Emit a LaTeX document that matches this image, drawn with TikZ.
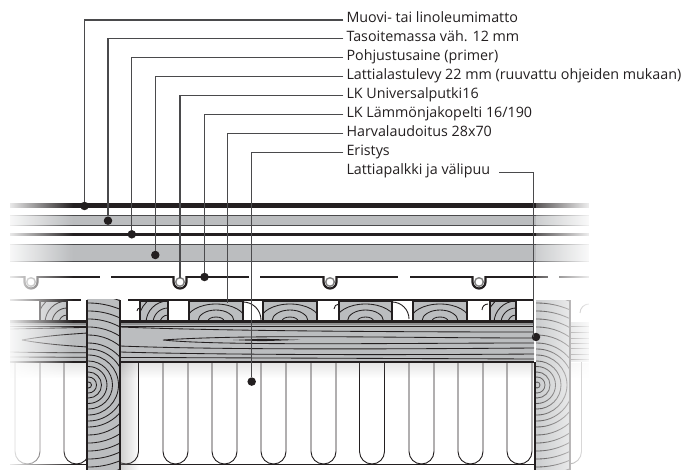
\documentclass[tikz,border=0pt]{standalone}
\usepackage{fontspec}
\setmainfont{Open Sans}
\usepackage{tikz}
\usetikzlibrary{fadings, shapes.geometric}
\definecolor{tumma}{HTML}{231F20}
\definecolor{harmaa}{HTML}{BBBDBF}
\definecolor{viiva}{HTML}{4A4A4C}
\tikzfading[name=haivevasen, left color=transparent!8, right color=transparent!100]
\tikzfading[name=haiveoikea, left color=transparent!75, right color=transparent!6]
\tikzfading[name=varjooikea, left color=transparent!62, right color=transparent!100]
\tikzfading[name=varjoalas, top color=transparent!80, bottom color=transparent!100]
\tikzset{
  lbl/.style={anchor=west, inner sep=3pt, text height=9pt, text depth=3pt, font=\fontsize{14.3}{16}\selectfont, text=tumma},
  leader/.style={draw=viiva, line width=1.1pt},
  dot/.style={circle, fill=tumma, minimum size=8.5pt, inner sep=0pt},
  grain/.style={draw=tumma, line width=0.85pt},
  kerros/.style={fill=harmaa, draw=none},
  reuna/.style={draw=tumma, line width=2pt}
}
\begin{document}
\begin{tikzpicture}[x=1pt,y=-1pt]
        \useasboundingbox (0,0) rectangle (682,470);
        \fill[white] (0,0) rectangle (682,470);

        % Floor layers
        \fill[tumma] (10,203.5) rectangle (589,208.5);
        \fill[kerros] (10,216) rectangle (589,225.5);
        \draw[viiva, line width=1pt] (10,216) -- (589,216) (10,225.5) -- (589,225.5);
        \fill[tumma] (10,232.8) rectangle (589,235.8);
        \fill[kerros] (10,245) rectangle (589,261.7);
        \draw[viiva, line width=1pt] (10,245) -- (589,245) (10,261.7) -- (589,261.7);

        % Heat plate and pipes
        \foreach \xa/\xb in {10/100, 111/249, 260/398, 410/548, 559/589}
          \draw[tumma, line width=1.8pt] (\xa,277) -- (\xb,277);
        \foreach \px in {31,180,330,479} {
          \fill[white] (\px-6,276.2) rectangle (\px+6,282);
          \draw[tumma, line width=2.2pt] (\px-6.5,276) -- (\px-6.5,282) arc[start angle=180, end angle=360, radius=6.5pt] -- (\px+6.5,276);
          \draw[gray, line width=1.4pt] (\px,282) circle (4.3pt);
        }

        % Insulation
        \foreach \ux in {15,64,113.5,163,212,261,311,359.5,409,458,507,556.5}
          \draw[tumma, line width=0.9pt] (\ux,362) -- (\ux,451.5) arc[start angle=180, end angle=360, radius=12.5pt] -- (\ux+25,362);
        \draw[tumma, line width=1pt] (10,464.5) -- (535,464.5);
        \fill[gray, path fading=varjoalas] (10,363) rectangle (589,378);
        \fill[gray, path fading=varjooikea] (120,363) rectangle (139,470);

        % Joist
        \fill[kerros] (10,322) rectangle (534,362);
        \fill[gray!80!black, opacity=.5] (10,321) rectangle (534,325);
        \foreach \gy in {322,326} \draw[grain] (10,\gy) -- (534,\gy);
        \draw[grain] (10,329) .. controls (60,328) and (100,327) .. (120,327) .. controls (220,331) and (400,332) .. (534,332);
        \draw[grain] (534,338) .. controls (400,338) and (250,334) .. (163,340) .. controls (220,346) and (400,343) .. (534,343);
        \draw[grain] (22,340) .. controls (50,335) and (75,334) .. (87,333);
        \draw[grain] (22,340) .. controls (50,345) and (75,346) .. (87,347);
        \draw[grain] (120,346) .. controls (220,350) and (400,349) .. (534,348);
        \draw[grain] (10,352) .. controls (60,353) and (100,353) .. (120,352) .. controls (220,355) and (400,355) .. (534,354);
        \draw[grain] (10,357) -- (534,359);
        \fill[tumma] (233,340) -- (262,338.8) -- (300,339.8) -- (262,341.2) -- cycle;
        \draw[reuna] (10,362) -- (534,362);

        % Battens
        \fill[white] (10,301) rectangle (534,321);
        \foreach \wa/\wb in {189/243,263/317,339/392,413/467} {
          \begin{scope}
            \clip (\wa,301) rectangle (\wb,320);
            \fill[kerros] (\wa,301) rectangle (\wb,320);
            \foreach \rx/\ry in {8/4,18/11,30/17}
              \draw[grain] ({(\wa+\wb)/2},321) ellipse [x radius=\rx pt, y radius=\ry pt];
          \end{scope}
          \draw[reuna] (\wa,301) rectangle (\wb,320.5);
        }
        \foreach \wa/\wb in {40/67,140/168,490/516} {
          \begin{scope}
            \clip (\wa,301) rectangle (\wb,320);
            \fill[kerros] (\wa,301) rectangle (\wb,320);
            \foreach \rx in {8,15,22,30}
              \draw[grain] (\wb,323) circle (\rx pt);
          \end{scope}
          \draw[reuna] (\wa,301) rectangle (\wb,320.5);
        }
        \draw[reuna] (10,320.5) -- (534,320.5);
        \draw[tumma, line width=2.4pt] (10,300) -- (81,300) (128,300) -- (534,300);
        \draw[tumma, line width=.9pt] (243,302) arc[start angle=90, end angle=0, radius=18pt];
        \draw[tumma, line width=.9pt] (392,302) arc[start angle=90, end angle=0, radius=17pt];
        \draw[tumma, line width=.9pt] (339,304) arc[start angle=90, end angle=180, radius=5pt];
        \draw[tumma, line width=.9pt] (140,308) arc[start angle=90, end angle=180, radius=3pt];
        \draw[tumma, line width=.9pt] (488,304) arc[start angle=90, end angle=180, radius=6pt];
        \draw[tumma, line width=.9pt] (589,304) arc[start angle=90, end angle=180, radius=9pt];

        % Right post
        \begin{scope}
          \clip (536,300) rectangle (570,470);
          \fill[kerros] (536,300) rectangle (570,470);
          \foreach \rr in {3,8,13,18.5,24,30,36,42,50,58,66,74,82,90}
            \draw[grain] (537,385) circle (\rr pt);
        \end{scope}
        \fill[white] (570,301) rectangle (571,470);
        \draw[reuna] (570,300) -- (570,470);
        \begin{scope}
          \clip (571,322) rectangle (589,362);
          \fill[kerros] (571,322) rectangle (589,362);
          \foreach \gy in {326,332,338,343,348,354,359} \draw[grain] (571,\gy) -- (589,\gy);
        \end{scope}

        % Fade out at both ends
        \fill[white, path fading=haivevasen] (9,195) rectangle (73,470);
        \fill[white, path fading=haiveoikea] (536,195) rectangle (590,470);
        \fill[white] (0,195) rectangle (10,470);
        \fill[white] (589,195) rectangle (600,470);
        \fill[white] (81,299) rectangle (128,302);
        \draw[reuna] (534.5,362) -- (534.5,470);

        % Left post
        \begin{scope}
          \clip (87,299) rectangle (120,470);
          \fill[kerros] (87,299) rectangle (120,470);
          \foreach \rr in {3,8,13,18.5,24,30,36,42,50,58,66,74,82,90}
            \draw[grain] (88.5,385) circle (\rr pt);
        \end{scope}
        \draw[reuna] (87,300) -- (87,470);
        \draw[reuna] (120,300) -- (120,470);

        % Labels
        \node[lbl] (muovi) at (343.3,20) {Muovi- tai linoleumimatto};
        \node[lbl] (taso) at (343.3,38.8) {Tasoitemassa väh. 12 mm};
        \node[lbl] (pohja) at (343.3,57.6) {Pohjustusaine (primer)};
        \node[lbl] (lastu) at (343.3,76.4) {Lattialastulevy 22 mm (ruuvattu ohjeiden mukaan)};
        \node[lbl] (putki) at (343.3,95.3) {LK Universalputki16};
        \node[lbl] (pelti) at (343.3,114.3) {LK Lämmönjakopelti 16/190};
        \node[lbl] (harva) at (343.3,133.3) {Harvalaudoitus 28x70};
        \node[lbl] (eristys) at (343.3,152.2) {Eristys};
        \node[lbl] (palkki) at (343.3,171.5) {Lattiapalkki ja välipuu};

        % Leader ends
        \node[dot] (dmuovi) at (84.5,206) {};
        \node[dot] (dtaso) at (108,220.7) {};
        \node[dot] (dpohja) at (131.8,234.3) {};
        \node[dot] (dlastu) at (155.3,255) {};
        \coordinate (dputki) at (180,278);
        \node[dot] (dpelti) at (204.5,277) {};
        \coordinate (dharva) at (227.8,303);
        \node[dot] (deristys) at (251.7,381.6) {};
        \node[dot] (dpalkki) at (536,337) {};
        \coordinate (kulma) at (533.7,172.3);
        \coordinate (palkkialku) at (499,172.3);

        % Leaders
        \foreach \lb/\dt in {muovi/dmuovi, taso/dtaso, pohja/dpohja, lastu/dlastu, putki/dputki, pelti/dpelti, harva/dharva, eristys/deristys}
          \draw[leader] (\lb.west) -| (\dt);
        \draw[leader] (palkkialku) -- (kulma) -- (kulma |- dpalkki);

        \end{tikzpicture}
\end{document}
